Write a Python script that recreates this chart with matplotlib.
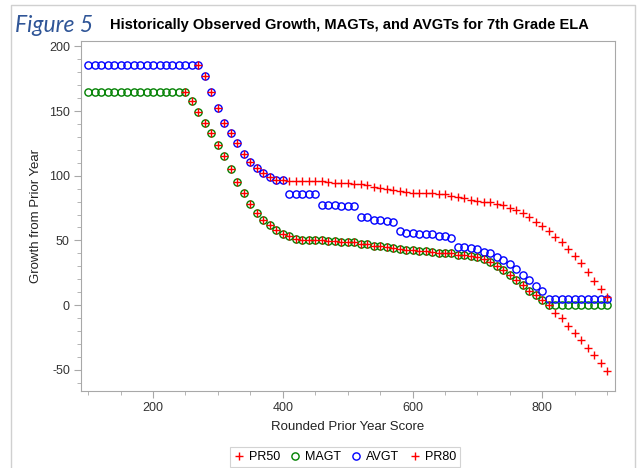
import matplotlib.pyplot as plt
from matplotlib.lines import Line2D
from matplotlib.ticker import MultipleLocator

# rounded prior year score, every 10 points
score = list(range(100, 910, 10))
score_pr50 = list(range(250, 910, 10))
score_pr80 = list(range(270, 910, 10))

magt = ([165] * 16 +
        [158, 149, 141, 133, 124, 115, 105, 95, 87, 78,
         71, 66, 62, 58, 55, 53, 51, 50, 50, 50,
         50, 49.5, 49.5, 49, 49, 49, 47, 47, 46, 46,
         45, 44, 43, 42.5, 42.5, 41.5, 41.5, 41, 40.5, 40.5,
         40, 39, 39, 38, 37, 35.5, 33, 30.5, 27, 23,
         19, 15.5, 11, 7.5, 3.5] +
        [0] * 10)

avgt = ([186] * 18 +
        [177, 165, 152, 141, 133, 125, 117, 111, 106, 102, 99, 97, 97] +
        [86, 86, 86, 86, 86] +
        [77, 77, 77, 76.5, 76.5, 76.5] +
        [68, 68, 66, 66, 65, 64] +
        [57, 56, 56, 55, 55, 55, 53, 53, 52] +
        [45, 45, 44, 43, 41, 40, 37, 35, 32, 28, 23, 19, 15, 11] +
        [5] * 10)

pr50 = [165, 158, 149, 141, 133, 124, 115, 105, 95, 87, 78,
        71, 66, 62, 58, 55, 53, 51, 50, 50, 50,
        50, 49.5, 49.5, 49, 49, 49, 47, 47, 46, 46,
        45, 44, 43, 42.5, 42.5, 41.5, 41.5, 41, 40.5, 40.5,
        40, 39, 39, 38, 37, 35.5, 33, 30.5, 27, 23,
        19, 15.5, 11, 7.5, 3.5, 0,
        -6, -10, -16, -22, -27, -33, -39, -45, -51]

pr80 = [186, 177, 165, 152, 141, 133, 125, 117, 111, 106, 102, 99, 97, 97,
        96, 96, 96, 96, 96, 96,
        95.5, 94.5, 94.5, 94, 93.5, 93.3, 92.5, 91.5, 90.7, 90,
        89.3, 88.3, 87.1, 87, 86.4, 86.4, 86.4, 85.8, 85.6, 84.3,
        83.3, 83, 81.2, 80.2, 79.9, 79.7, 78.4, 77.1, 75.3, 73.5,
        70.9, 68.3, 64.4, 61.4, 57.5, 52.3, 48.7, 43.1, 38.1, 32.7,
        25.3, 18.6, 12.6, 6.4]

plt.rcParams['font.family'] = ['Liberation Sans', 'DejaVu Sans']
plt.rcParams['axes.unicode_minus'] = False

W, H = 642, 468
fig = plt.figure(figsize=(W / 100, H / 100), dpi=100)
ax = fig.add_axes([81 / W, 1 - 391 / H, (615 - 81) / W, (391 - 41) / H])

circ = dict(ls='none', marker='o', mfc='none', ms=5.2, mew=1.0)
plus = dict(ls='none', marker='+', ms=6, mew=1.0)

h_magt, = ax.plot(score, magt, color='#008000', label='MAGT', **circ)
h_avgt, = ax.plot(score, avgt, color='#0000ff', label='AVGT', **circ)
h_pr50, = ax.plot(score_pr50, pr50, color='#ff0000', label='PR50', **plus)
h_pr80, = ax.plot(score_pr80, pr80, color='#ff0000', label='PR80', **plus)

ax.set_xlim(89, 912)
ax.set_ylim(-66.5, 204.2)
ax.set_xticks([200, 400, 600, 800])
ax.xaxis.set_minor_locator(MultipleLocator(50))
ax.set_yticks([-50, 0, 50, 100, 150, 200])
ax.yaxis.set_minor_locator(MultipleLocator(10))

frame = '#a8a8a8'
for s in ax.spines.values():
    s.set_color(frame)
ax.tick_params(which='both', color=frame, labelcolor='#333333', labelsize=9)
ax.tick_params(which='major', length=5, pad=3)
ax.tick_params(which='minor', length=3)

ax.set_xlabel('Rounded Prior Year Score', fontsize=9.5, color='#222222', labelpad=5)
ax.set_ylabel('Growth from Prior Year', fontsize=9.5, color='#222222', labelpad=5)

fig.text(15 / W, 1 - 25 / H, 'Figure 5', fontsize=16.5, style='italic',
         color='#2f5597', family=['Lato', 'DejaVu Sans'], va='center')
fig.text(110 / W, 1 - 25 / H,
         'Historically Observed Growth, MAGTs, and AVGTs for 7th Grade ELA',
         fontsize=10.5, weight='bold', color='black', va='center')

# light page border
border = '#d0d0d0'
fig.add_artist(Line2D([11 / W, 11 / W, 635 / W, 635 / W],
                      [0, 1 - 5 / H, 1 - 5 / H, 0],
                      transform=fig.transFigure, color=border, lw=1))

leg = fig.legend([h_pr50, h_magt, h_avgt, h_pr80], ['PR50', 'MAGT', 'AVGT', 'PR80'],
                 loc='center', bbox_to_anchor=(345 / W, 1 - 457 / H), ncol=4,
                 fontsize=9, frameon=True, fancybox=False, handlelength=0.8,
                 handletextpad=0.4, columnspacing=0.8, borderpad=0.35)
leg.get_frame().set_edgecolor('#c8c8c8')
leg.get_frame().set_linewidth(0.8)

fig.savefig('out.png', dpi=100)
